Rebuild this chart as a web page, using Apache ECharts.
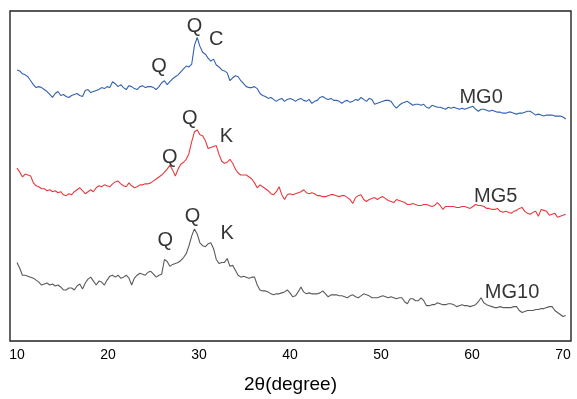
<!DOCTYPE html>
<html>
<head>
<meta charset="utf-8">
<script src="https://cdn.jsdelivr.net/npm/echarts@6/dist/echarts.min.js"></script>
<style>
  html, body { margin: 0; padding: 0; background: #fff; }
  #chart { width: 577px; height: 399px; }
</style>
</head>
<body>
<div id="chart"></div>
<script>
// XRD scan: 10°–70.3° 2θ, 0.3° step, intensities in arbitrary units (patterns offset vertically)
const SCAN_START = 10;
const SCAN_STEP = 0.3;

const MG0 = [
  276,275,272,271,269,265,261,258,259,258,
  256,254,251,248,252,254,250,251,249,248,
  250,251,252,250,249,255,256,253,254,255,
  256,258,257,259,258,264,262,259,261,258,
  256,260,259,257,256,259,260,258,259,259,
  258,256,259,263,265,261,264,267,269,271,
  274,277,280,279,282,301,309,300,294,292,
  288,285,287,281,279,276,275,273,265,268,
  270,269,265,262,259,258,258,259,257,252,
  250,249,247,248,246,244,246,247,244,246,
  247,246,244,246,247,245,244,246,242,244,
  245,248,249,247,246,247,245,245,244,242,
  244,245,243,244,246,245,248,246,244,247,
  246,241,242,243,244,245,245,244,240,237,
  240,242,243,244,242,240,241,241,240,241,
  238,237,240,239,238,238,237,236,238,237,
  238,237,236,237,236,237,238,239,236,234,
  236,236,235,234,235,234,233,233,232,232,
  233,233,232,231,232,232,233,234,234,232,
  230,231,230,229,230,230,230,229,229,229,
  228,226
];

const MG5 = [
  176,172,167,170,169,168,161,158,157,155,
  155,153,154,152,153,151,152,149,148,150,
  149,152,154,156,153,150,152,154,152,156,
  158,157,159,158,157,160,162,163,160,158,
  157,161,158,156,157,159,159,160,160,161,
  163,165,167,169,172,175,179,174,168,175,
  180,182,185,191,203,213,215,210,209,204,
  196,197,198,199,190,183,181,182,185,181,
  175,171,169,169,169,167,165,161,156,159,
  157,155,153,150,149,152,157,149,144,149,
  150,149,150,151,152,154,151,150,151,150,
  148,148,147,147,148,149,149,148,147,148,
  148,146,144,140,146,148,149,144,142,144,
  145,146,144,146,147,145,143,142,141,144,
  143,142,141,139,139,140,139,138,138,139,
  139,138,137,138,141,138,134,137,137,137,
  137,136,136,137,137,136,135,137,139,138,
  138,137,135,135,134,134,135,132,131,132,
  131,130,132,133,135,136,132,130,129,131,
  132,127,134,133,132,128,129,130,126,127,
  128,129
];

const MG10 = [
  80,74,67,67,66,65,64,62,60,57,
  58,59,57,58,56,57,55,52,52,54,
  54,52,56,58,53,59,63,65,61,57,
  61,60,57,62,66,67,65,67,64,65,
  67,64,57,64,67,69,68,67,70,71,
  68,65,67,68,83,81,76,78,79,80,
  82,85,89,97,107,114,109,100,97,96,
  99,100,94,83,79,80,80,84,76,77,
  72,67,65,66,65,64,65,65,57,52,
  51,51,50,48,47,48,48,49,50,52,
  49,45,46,50,55,50,48,49,48,48,
  48,49,51,48,45,47,47,47,46,46,
  45,44,46,47,45,44,46,48,47,46,
  44,44,44,45,46,45,44,45,44,43,
  44,44,40,38,43,43,41,41,44,41,
  36,36,37,37,39,38,37,37,38,38,
  37,35,36,37,36,36,35,36,37,40,
  44,39,37,36,35,34,34,35,34,34,
  34,34,35,35,31,29,30,31,31,31,
  32,32,33,33,34,35,35,31,29,27,
  25,26
];

// Phase / sample annotations: text, 2θ position, intensity level
const noteText  = ['Q', 'Q', 'C', 'MG0', 'Q', 'Q', 'K', 'MG5', 'Q', 'Q', 'K', 'MG10'];
const noteAngle = [25.6, 29.5, 31.9, 61.0, 26.8, 29.0, 33.0, 62.6, 26.3, 29.3, 33.1, 64.4];
const noteLevel = [279, 320, 307, 248, 187, 227, 208, 147, 102, 127, 109, 49];

const xTicks = [10, 20, 30, 40, 50, 60, 70];

const angles = MG0.map((_, i) => +(SCAN_START + i * SCAN_STEP).toFixed(2));
const pairs = arr => arr.map((v, i) => [angles[i], v]);

const chart = echarts.init(document.getElementById('chart'), null, { renderer: 'canvas' });

const FONT = 'Liberation Sans, Arial, sans-serif';

const lineSeries = (name, data, color) => ({
  name,
  type: 'line',
  data: pairs(data),
  showSymbol: false,
  symbol: 'none',
  smooth: false,
  lineStyle: { color, width: 1.1 },
  silent: true,
  z: 3
});

chart.setOption({
  animation: false,
  backgroundColor: '#ffffff',
  grid: {
    left: 10, right: 6, top: 11, bottom: 52,
    show: true,
    borderColor: '#222222',
    borderWidth: 1.4,
    backgroundColor: 'transparent'
  },
  xAxis: {
    type: 'value',
    min: 9.23,
    max: 70.88,
    axisLine: { show: false },
    axisTick: { show: false },
    splitLine: { show: false },
    axisLabel: {
      customValues: xTicks,
      color: '#000',
      fontSize: 14,
      fontFamily: FONT,
      margin: 7
    },
    name: '2θ(degree)',
    nameLocation: 'middle',
    nameGap: 34,
    nameTextStyle: {
      color: '#000',
      fontSize: 19,
      fontFamily: FONT
    }
  },
  yAxis: {
    type: 'value',
    min: 0,
    max: 336,
    show: false
  },
  series: [
    lineSeries('MG0', MG0, '#3161b0'),
    lineSeries('MG5', MG5, '#e63a3e'),
    lineSeries('MG10', MG10, '#5a5a5a'),
    {
      type: 'scatter',
      data: noteText.map((t, i) => ({ value: [noteAngle[i], noteLevel[i]], name: t })),
      symbolSize: 0,
      silent: true,
      z: 5,
      label: {
        show: true,
        position: 'inside',
        formatter: p => p.name,
        color: '#000',
        fontSize: 20,
        fontFamily: FONT
      }
    }
  ]
});
</script>
</body>
</html>
